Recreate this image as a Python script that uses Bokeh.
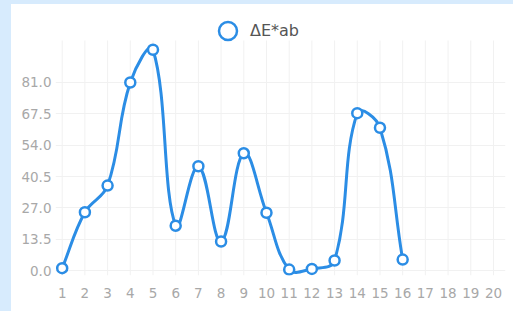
from bokeh.plotting import figure
from bokeh.models import (Range1d, FixedTicker, PrintfTickFormatter, Legend, LegendItem,
                          ColumnDataSource, Spacer)
from bokeh.layouts import row, column
from bokeh.embed import file_html
from bokeh.resources import INLINE

# ---- data ----
samples = list(range(1, 17))
delta_e = [1.0, 25.1, 36.6, 81.0, 95.1, 19.3, 44.9, 12.5, 50.5, 24.9, 0.4, 0.7, 4.3, 67.8, 61.5, 4.7]
x_ticks = list(range(1, 21))
y_ticks = [0.0, 13.5, 27.0, 40.5, 54.0, 67.5, 81.0]
series_name = "ΔE*ab"

BLUE = "#2b8de5"
EDGE = "#d7ebfd"
tension = 0.4

fig = figure(width=502, height=307, output_backend="svg", toolbar_location=None,
             x_range=Range1d(0.705, 20.53), y_range=Range1d(-2.15, 114.6),
             min_border_left=44, min_border_right=8, min_border_top=0, min_border_bottom=36)
fig.border_fill_color = "white"
fig.background_fill_color = "white"
fig.outline_line_color = None

# axes
for ax in (fig.xaxis[0], fig.yaxis[0]):
    ax.axis_line_color = None
    ax.major_tick_line_color = None
    ax.minor_tick_line_color = None
    ax.major_tick_out = 0
    ax.major_tick_in = 0
    ax.major_label_text_color = "#a8a8a8"
    ax.major_label_text_font = "DejaVu Sans"
    ax.major_label_text_font_size = "13.5px"
fig.xaxis[0].ticker = FixedTicker(ticks=x_ticks)
fig.xaxis[0].major_label_standoff = 12
fig.yaxis[0].ticker = FixedTicker(ticks=y_ticks)
fig.yaxis[0].formatter = PrintfTickFormatter(format="%.1f")
fig.yaxis[0].major_label_standoff = 4

fig.xgrid.grid_line_color = None
fig.ygrid.grid_line_color = "#f1f1f1"
fig.ygrid.grid_line_width = 1

# vertical grid lines limited to the chart area
grid_top = 99.1
fig.segment(x0=x_ticks, y0=[-2.15] * len(x_ticks), x1=x_ticks, y1=[grid_top] * len(x_ticks),
            line_color="#f1f1f1", line_width=1)

# smooth curve (Chart.js-style spline, computed in pixel-like space)
sx, sy = 22.7, 2.321
px = [x * sx for x in samples]
py = [y * sy for y in delta_e]
n = len(px)
cp_prev, cp_next = [], []
for i in range(n):
    pxp, pyp = (px[i - 1], py[i - 1]) if i > 0 else (px[i], py[i])
    pxn, pyn = (px[i + 1], py[i + 1]) if i < n - 1 else (px[i], py[i])
    d01 = ((px[i] - pxp) ** 2 + (py[i] - pyp) ** 2) ** 0.5
    d12 = ((pxn - px[i]) ** 2 + (pyn - py[i]) ** 2) ** 0.5
    tot = d01 + d12
    s01 = d01 / tot if tot else 0
    s12 = d12 / tot if tot else 0
    fa, fb = tension * s01, tension * s12
    cp_prev.append((px[i] - fa * (pxn - pxp), py[i] - fa * (pyn - pyp)))
    cp_next.append((px[i] + fb * (pxn - pxp), py[i] + fb * (pyn - pyp)))

bz = dict(x0=[], y0=[], x1=[], y1=[], cx0=[], cy0=[], cx1=[], cy1=[])
for i in range(n - 1):
    bz["x0"].append(samples[i]); bz["y0"].append(delta_e[i])
    bz["x1"].append(samples[i + 1]); bz["y1"].append(delta_e[i + 1])
    bz["cx0"].append(cp_next[i][0] / sx); bz["cy0"].append(cp_next[i][1] / sy)
    bz["cx1"].append(cp_prev[i + 1][0] / sx); bz["cy1"].append(cp_prev[i + 1][1] / sy)
fig.bezier(source=ColumnDataSource(bz), x0="x0", y0="y0", x1="x1", y1="y1",
           cx0="cx0", cy0="cy0", cx1="cx1", cy1="cy1",
           line_color=BLUE, line_width=3, line_cap="round")

pts = fig.scatter(samples, delta_e, marker="circle", size=10, fill_color="white",
                  line_color=BLUE, line_width=2.5)

legend = Legend(items=[LegendItem(label=series_name, renderers=[pts])],
                location=(150, 222), orientation="horizontal",
                glyph_width=45, glyph_height=45, label_height=45,
                label_standoff=0, padding=0, margin=0, spacing=0,
                border_line_color=None, background_fill_alpha=0,
                label_text_font="DejaVu Sans", label_text_font_size="16px",
                label_text_color="#555555")
fig.add_layout(legend, "center")

# light blue edges of the original screenshot
left_edge = Spacer(width=11, height=311, styles={"background-color": EDGE})
top_edge = Spacer(width=502, height=4, styles={"background-color": EDGE})
p = row(left_edge, column(top_edge, fig, spacing=0), spacing=0)

open("out.html", "w").write(file_html(p, INLINE))
